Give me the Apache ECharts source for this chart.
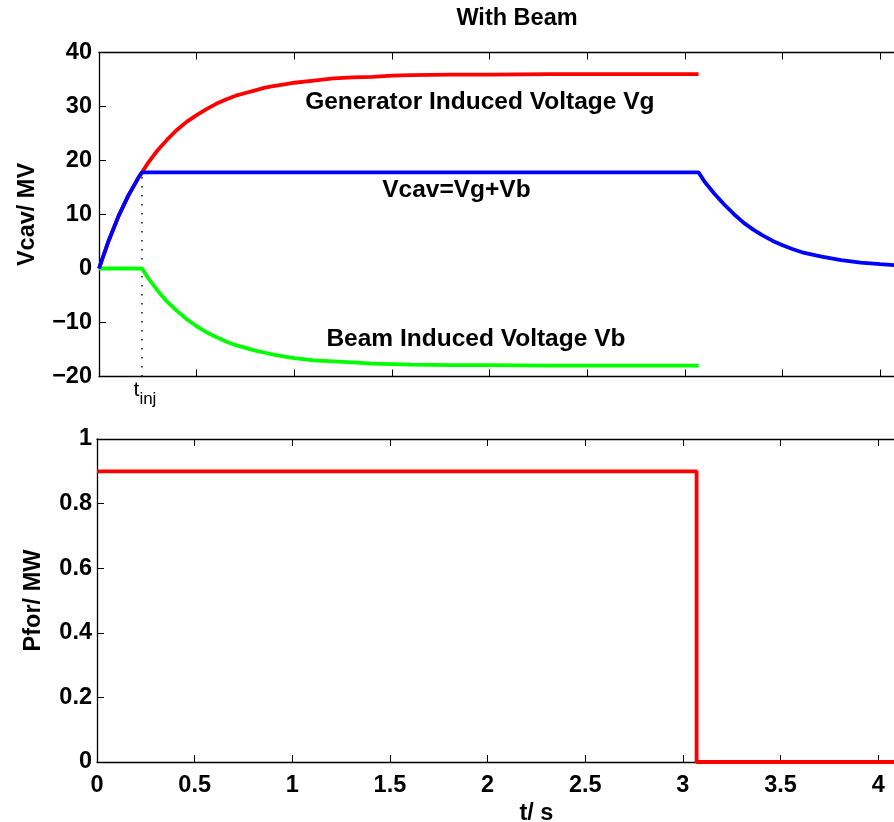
<!DOCTYPE html>
<html>
<head>
<meta charset="utf-8">
<script src="https://cdn.jsdelivr.net/npm/echarts@6/dist/echarts.min.js"></script>
<style>
html,body{margin:0;padding:0;background:#fff;}
#main{width:894px;height:822px;}
</style>
</head>
<body>
<div id="main"></div>
<script>
// ---- data ----
var tinj = 0.22;
var tGen = [0,0.05,0.1,0.15,0.2,0.22,0.25,0.3,0.35,0.4,0.45,0.5,0.55,0.6,0.65,0.7,0.75,0.8,0.85,0.9,0.95,1.0,1.1,1.2,1.3,1.4,1.5,1.6,1.8,2.0,2.3,2.6,3.07];
var vGen = [0,5.2,9.7,13.5,16.7,17.8,19.5,21.9,23.9,25.7,27.2,28.4,29.5,30.5,31.3,32.0,32.5,33.0,33.5,33.8,34.1,34.4,34.8,35.2,35.4,35.5,35.7,35.8,35.9,35.9,36.0,36.0,36.0];

var tCav = [0,0.05,0.1,0.15,0.2,0.22,3.07,3.1,3.15,3.2,3.25,3.3,3.35,3.4,3.45,3.5,3.55,3.6,3.7,3.8,3.9,4.0,4.1,4.2,4.3,4.4,4.5];
var vCav = [0,5.2,9.7,13.5,16.7,17.8,17.8,16.1,13.9,11.9,10.1,8.5,7.2,6.1,5.1,4.3,3.6,3.0,2.2,1.55,1.1,0.8,0.55,0.4,0.3,0.2,0.15];

var tBeam = [0,0.22,0.25,0.3,0.35,0.4,0.45,0.5,0.55,0.6,0.65,0.7,0.75,0.8,0.85,0.9,0.95,1.0,1.1,1.2,1.3,1.4,1.5,1.6,1.8,2.0,2.3,2.6,3.07];
var vBeam = [0,0,-1.7,-4.1,-6.2,-7.9,-9.4,-10.7,-11.8,-12.7,-13.5,-14.2,-14.7,-15.2,-15.6,-16.0,-16.3,-16.6,-17.0,-17.2,-17.4,-17.6,-17.7,-17.8,-17.9,-17.9,-18.0,-18.0,-18.0];

var tPfor = [0,3.07,3.07,4.5];
var vPfor = [0.9,0.9,0,0];

var xMin = 0, xMax = 4.5, xStep = 0.5;
var vTicks = {min:-20, max:40, step:10};
var pTicks = {min:0, max:1, step:0.2};

var labels = {
  gen: {text:'Generator Induced Voltage Vg', at:[1.95, 30.8]},
  cav: {text:'Vcav=Vg+Vb', at:[1.83, 14.4]},
  beam:{text:'Beam Induced Voltage Vb', at:[1.93, -13.1]}
};

// ---- build ----
function zip(a,b){ return a.map(function(v,i){ return [v,b[i]]; }); }
var FONT = '"Liberation Sans", Arial, Helvetica, sans-serif';
var FS = 23.5;
var pxPerUnit = 195.3;
var gridW = (xMax - xMin) * pxPerUnit;

function xAx(grid, pos, showLabels, name){
  return {
    type:'value', gridIndex:grid, position:pos, min:xMin, max:xMax, interval:xStep,
    axisLine:{show:true, onZero:false, lineStyle:{color:'#000', width:1.3}},
    axisTick:{show:true, inside:true, length:7, lineStyle:{color:'#000', width:1}},
    axisLabel:{show:showLabels, color:'#000', fontFamily:FONT, fontWeight:'bold', fontSize:FS, margin:12, showMaxLabel:false},
    splitLine:{show:false},
    name:name||'', nameLocation:'middle', nameGap:40,
    nameTextStyle:{color:'#000', fontFamily:FONT, fontWeight:'bold', fontSize:FS}
  };
}
function minusFmt(v){ return v < 0 ? '\u2212' + Math.abs(v) : String(v); }

var option = {
  animation:false,
  backgroundColor:'#fff',
  graphic:[{type:'text', x:517, y:19, style:{text:'With Beam', fill:'#000', font:'bold 23.5px ' + FONT, textAlign:'center', textVerticalAlign:'middle'}}],
  grid:[
    {left:99, top:52.5, width:gridW, height:324, outerBoundsMode:'none', containLabel:false},
    {left:97, top:439, width:gridW, height:323, outerBoundsMode:'none', containLabel:false}
  ],
  xAxis:[
    xAx(0,'bottom',false),
    xAx(0,'top',false),
    xAx(1,'bottom',true,'t/ s'),
    xAx(1,'top',false)
  ],
  yAxis:[
    {type:'value', gridIndex:0, min:vTicks.min, max:vTicks.max, interval:vTicks.step,
     axisLine:{show:true, onZero:false, lineStyle:{color:'#000', width:1.3}},
     axisTick:{show:true, inside:true, length:7, lineStyle:{color:'#000'}},
     axisLabel:{color:'#000', fontFamily:FONT, fontWeight:'bold', fontSize:FS, margin:7, formatter:minusFmt},
     splitLine:{show:false},
     name:'Vcav/ MV', nameLocation:'middle', nameGap:59, nameRotate:90,
     nameTextStyle:{color:'#000', fontFamily:FONT, fontWeight:'bold', fontSize:FS}},
    {type:'value', gridIndex:1, min:pTicks.min, max:pTicks.max, interval:pTicks.step,
     axisLine:{show:true, onZero:false, lineStyle:{color:'#000', width:1.3}},
     axisTick:{show:true, inside:true, length:7, lineStyle:{color:'#000'}},
     axisLabel:{color:'#000', fontFamily:FONT, fontWeight:'bold', fontSize:FS, margin:5},
     splitLine:{show:false},
     name:'Pfor/ MW', nameLocation:'middle', nameGap:51, nameRotate:90,
     nameTextStyle:{color:'#000', fontFamily:FONT, fontWeight:'bold', fontSize:FS}}
  ],
  series:[
    {type:'line', name:'tinj', xAxisIndex:0, yAxisIndex:0, data:[[tinj, vTicks.min],[tinj, vCav[5]]],
     showSymbol:false, lineStyle:{color:'#111', width:1.5, type:[1.5,7.5]}, z:1,
     markPoint:{symbol:'circle', symbolSize:1, itemStyle:{color:'rgba(0,0,0,0)'},
       data:[{coord:[tinj, vTicks.min], label:{show:true, position:'bottom', distance:3, offset:[3,0],
         formatter:'{t|t}{s|inj}',
         rich:{t:{fontFamily:FONT, fontSize:21, color:'#000', verticalAlign:'top', lineHeight:20},
               s:{fontFamily:FONT, fontSize:17, color:'#000', verticalAlign:'top', lineHeight:16, padding:[11,0,0,0]}}}}]}},
    {type:'line', name:'Vg', xAxisIndex:0, yAxisIndex:0, data:zip(tGen, vGen), showSymbol:false,
     lineStyle:{color:'#ff0000', width:3.8}, z:3,
     markPoint:{symbol:'circle', symbolSize:1, itemStyle:{color:'rgba(0,0,0,0)'},
       data:[{coord:labels.gen.at, label:{show:true, position:'inside', formatter:labels.gen.text, color:'#000', fontFamily:FONT, fontWeight:'bold', fontSize:24.5}}]}},
    {type:'line', name:'Vb', xAxisIndex:0, yAxisIndex:0, data:zip(tBeam, vBeam), showSymbol:false,
     lineStyle:{color:'#00ff00', width:3.8}, z:3,
     markPoint:{symbol:'circle', symbolSize:1, itemStyle:{color:'rgba(0,0,0,0)'},
       data:[{coord:labels.beam.at, label:{show:true, position:'inside', formatter:labels.beam.text, color:'#000', fontFamily:FONT, fontWeight:'bold', fontSize:24.5}}]}},
    {type:'line', name:'Vcav', xAxisIndex:0, yAxisIndex:0, data:zip(tCav, vCav), showSymbol:false,
     lineStyle:{color:'#0000ff', width:3.8}, z:4,
     markPoint:{symbol:'circle', symbolSize:1, itemStyle:{color:'rgba(0,0,0,0)'},
       data:[{coord:labels.cav.at, label:{show:true, position:'inside', formatter:labels.cav.text, color:'#000', fontFamily:FONT, fontWeight:'bold', fontSize:24.5}}]}},
    {type:'line', name:'Pfor', xAxisIndex:2, yAxisIndex:1, data:zip(tPfor, vPfor), showSymbol:false,
     lineStyle:{color:'#ff0000', width:3.8}, z:3}
  ]
};
var chart = echarts.init(document.getElementById('main'), null, {renderer:'canvas'});
chart.setOption(option);
</script>
</body>
</html>
